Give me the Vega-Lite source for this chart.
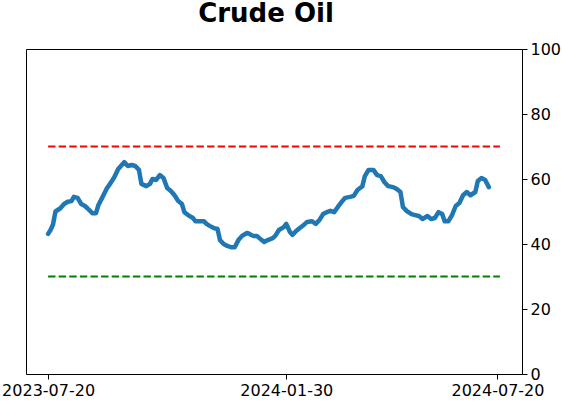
{
  "$schema": "https://vega.github.io/schema/vega-lite/v6.json",
  "autosize": "none",
  "width": 496,
  "height": 325,
  "padding": {"left": 26, "top": 49, "right": 40, "bottom": 28},
  "background": "white",
  "config": {
    "font": "DejaVu Sans",
    "view": {"stroke": "black", "strokeWidth": 1},
    "axis": {"grid": false, "domain": false, "labelFont": "DejaVu Sans", "labelFontSize": 16, "labelColor": "black", "tickColor": "black", "tickSize": 5, "labelPadding": 3}
  },
  "title": {"text": "Crude Oil", "font": "DejaVu Sans", "fontSize": 26, "fontWeight": "bold", "color": "black", "anchor": "middle", "dx": -8, "offset": 14},
  "datasets": {
    "oil": [
      {"date": "2023-07-20", "value": 43.1},
      {"date": "2023-07-22", "value": 44.3},
      {"date": "2023-07-24", "value": 46.0},
      {"date": "2023-07-26", "value": 50.0},
      {"date": "2023-07-30", "value": 51.0},
      {"date": "2023-08-02", "value": 52.3},
      {"date": "2023-08-05", "value": 53.0},
      {"date": "2023-08-08", "value": 53.2},
      {"date": "2023-08-10", "value": 54.5},
      {"date": "2023-08-13", "value": 54.2},
      {"date": "2023-08-16", "value": 52.3},
      {"date": "2023-08-19", "value": 51.7},
      {"date": "2023-08-21", "value": 51.0},
      {"date": "2023-08-25", "value": 49.5},
      {"date": "2023-08-28", "value": 49.5},
      {"date": "2023-08-30", "value": 52.0},
      {"date": "2023-09-02", "value": 54.2},
      {"date": "2023-09-06", "value": 57.2},
      {"date": "2023-09-09", "value": 58.8},
      {"date": "2023-09-12", "value": 60.6},
      {"date": "2023-09-15", "value": 63.0},
      {"date": "2023-09-18", "value": 64.3},
      {"date": "2023-09-20", "value": 65.2},
      {"date": "2023-09-23", "value": 64.0},
      {"date": "2023-09-26", "value": 64.3},
      {"date": "2023-09-29", "value": 64.0},
      {"date": "2023-10-02", "value": 62.8},
      {"date": "2023-10-04", "value": 58.5},
      {"date": "2023-10-08", "value": 57.8},
      {"date": "2023-10-11", "value": 58.5},
      {"date": "2023-10-13", "value": 60.0},
      {"date": "2023-10-16", "value": 59.7},
      {"date": "2023-10-19", "value": 61.2},
      {"date": "2023-10-22", "value": 60.3},
      {"date": "2023-10-25", "value": 57.2},
      {"date": "2023-10-28", "value": 56.3},
      {"date": "2023-10-31", "value": 55.0},
      {"date": "2023-11-03", "value": 53.2},
      {"date": "2023-11-06", "value": 52.3},
      {"date": "2023-11-08", "value": 49.8},
      {"date": "2023-11-11", "value": 48.9},
      {"date": "2023-11-15", "value": 48.0},
      {"date": "2023-11-17", "value": 47.0},
      {"date": "2023-11-20", "value": 47.0},
      {"date": "2023-11-24", "value": 47.0},
      {"date": "2023-11-26", "value": 46.2},
      {"date": "2023-11-29", "value": 45.5},
      {"date": "2023-12-02", "value": 44.9},
      {"date": "2023-12-05", "value": 44.6},
      {"date": "2023-12-07", "value": 41.2},
      {"date": "2023-12-10", "value": 40.0},
      {"date": "2023-12-13", "value": 39.4},
      {"date": "2023-12-16", "value": 39.0},
      {"date": "2023-12-19", "value": 39.0},
      {"date": "2023-12-22", "value": 41.2},
      {"date": "2023-12-25", "value": 42.5},
      {"date": "2023-12-29", "value": 43.4},
      {"date": "2023-12-31", "value": 43.1},
      {"date": "2024-01-03", "value": 42.5},
      {"date": "2024-01-06", "value": 42.5},
      {"date": "2024-01-10", "value": 41.2},
      {"date": "2024-01-12", "value": 40.6},
      {"date": "2024-01-15", "value": 41.2},
      {"date": "2024-01-19", "value": 41.8},
      {"date": "2024-01-21", "value": 42.5},
      {"date": "2024-01-24", "value": 44.3},
      {"date": "2024-01-28", "value": 45.2},
      {"date": "2024-01-30", "value": 46.2},
      {"date": "2024-02-02", "value": 43.7},
      {"date": "2024-02-04", "value": 42.8},
      {"date": "2024-02-07", "value": 44.0},
      {"date": "2024-02-10", "value": 44.9},
      {"date": "2024-02-13", "value": 45.8},
      {"date": "2024-02-16", "value": 46.8},
      {"date": "2024-02-20", "value": 47.0},
      {"date": "2024-02-23", "value": 46.2},
      {"date": "2024-02-26", "value": 47.4},
      {"date": "2024-02-29", "value": 49.2},
      {"date": "2024-03-03", "value": 49.8},
      {"date": "2024-03-06", "value": 50.2},
      {"date": "2024-03-09", "value": 49.8},
      {"date": "2024-03-12", "value": 51.4},
      {"date": "2024-03-15", "value": 52.9},
      {"date": "2024-03-18", "value": 54.2},
      {"date": "2024-03-22", "value": 54.5},
      {"date": "2024-03-25", "value": 54.8},
      {"date": "2024-03-28", "value": 56.6},
      {"date": "2024-04-01", "value": 57.8},
      {"date": "2024-04-03", "value": 60.9},
      {"date": "2024-04-06", "value": 62.8},
      {"date": "2024-04-10", "value": 62.8},
      {"date": "2024-04-13", "value": 61.2},
      {"date": "2024-04-16", "value": 60.9},
      {"date": "2024-04-19", "value": 59.0},
      {"date": "2024-04-22", "value": 57.8},
      {"date": "2024-04-26", "value": 57.5},
      {"date": "2024-04-29", "value": 56.9},
      {"date": "2024-05-02", "value": 56.0},
      {"date": "2024-05-04", "value": 51.4},
      {"date": "2024-05-07", "value": 50.2},
      {"date": "2024-05-11", "value": 49.2},
      {"date": "2024-05-14", "value": 48.9},
      {"date": "2024-05-17", "value": 48.6},
      {"date": "2024-05-20", "value": 47.7},
      {"date": "2024-05-24", "value": 48.6},
      {"date": "2024-05-27", "value": 47.7},
      {"date": "2024-05-30", "value": 48.0},
      {"date": "2024-06-02", "value": 49.8},
      {"date": "2024-06-05", "value": 49.2},
      {"date": "2024-06-07", "value": 47.0},
      {"date": "2024-06-10", "value": 47.0},
      {"date": "2024-06-13", "value": 48.9},
      {"date": "2024-06-16", "value": 51.7},
      {"date": "2024-06-19", "value": 52.6},
      {"date": "2024-06-22", "value": 55.0},
      {"date": "2024-06-25", "value": 56.0},
      {"date": "2024-06-28", "value": 55.0},
      {"date": "2024-07-02", "value": 56.0},
      {"date": "2024-07-04", "value": 59.4},
      {"date": "2024-07-07", "value": 60.3},
      {"date": "2024-07-10", "value": 59.7},
      {"date": "2024-07-13", "value": 57.5}
    ],
    "levels": [
      {"start": "2023-07-20", "end": "2024-07-22", "level": 70, "color": "#ff0000"},
      {"start": "2023-07-20", "end": "2024-07-22", "level": 30, "color": "#008000"}
    ]
  },
  "encoding": {
    "x": {
      "type": "temporal",
      "scale": {"type": "utc", "domain": [{"year": 2023, "month": 7, "date": 2, "utc": true}, {"year": 2024, "month": 8, "date": 9, "utc": true}]},
      "axis": {"title": null, "orient": "bottom", "labelExpr": "utcFormat(datum.value, '%Y-%m-%d')",
               "values": [{"year": 2023, "month": 7, "date": 20, "utc": true}, {"year": 2024, "month": 1, "date": 30, "utc": true}, {"year": 2024, "month": 7, "date": 20, "utc": true}]}
    },
    "y": {
      "type": "quantitative",
      "scale": {"domain": [0, 100], "nice": false, "zero": false},
      "axis": {"title": null, "orient": "right", "values": [0, 20, 40, 60, 80, 100]}
    }
  },
  "layer": [
    {
      "data": {"name": "levels"},
      "mark": {"type": "rule", "strokeWidth": 2, "strokeDash": [7.4, 3.2]},
      "encoding": {
        "x": {"field": "start"},
        "x2": {"field": "end"},
        "y": {"field": "level"},
        "color": {"field": "color", "type": "nominal", "scale": null}
      }
    },
    {
      "data": {"name": "oil"},
      "mark": {"type": "line", "color": "#1f77b4", "strokeWidth": 4.5, "strokeJoin": "round", "strokeCap": "round"},
      "encoding": {
        "x": {"field": "date"},
        "y": {"field": "value"}
      }
    }
  ]
}
